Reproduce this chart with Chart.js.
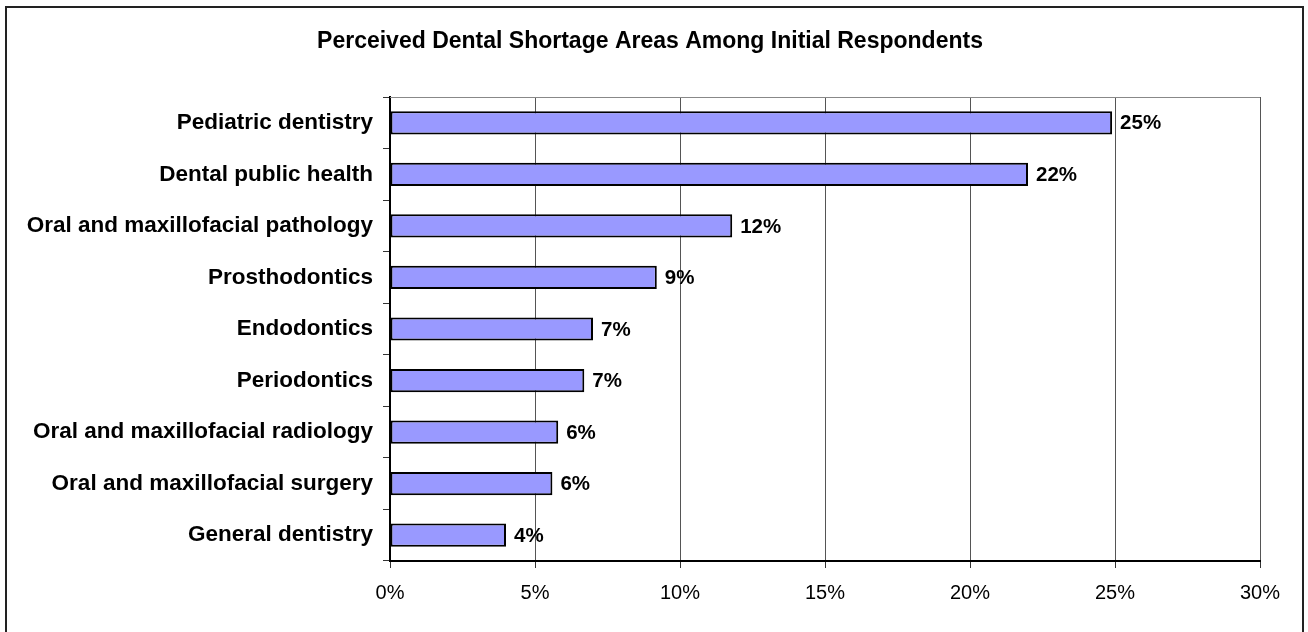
<!DOCTYPE html>
<html>
<head>
<meta charset="utf-8">
<script src="https://cdn.jsdelivr.net/npm/chart.js@4/dist/chart.umd.min.js"></script>
<style>
  html, body { margin: 0; padding: 0; background: #fff; overflow: hidden; }
  #wrap { position: relative; width: 1308px; height: 632px; }
  #frame {
    position: absolute; left: 5px; top: 6px; width: 1299px; height: 700px;
    box-sizing: border-box; border: 2px solid #222; pointer-events: none;
  }
</style>
</head>
<body>
<div id="wrap">
  <canvas id="myCharts" width="1308" height="632"></canvas>
  <div id="frame"></div>
</div>
<script>
// data
const chartTitle = 'Perceived Dental Shortage Areas Among Initial Respondents';
const categories = [
  'Pediatric dentistry',
  'Dental public health',
  'Oral and maxillofacial pathology',
  'Prosthodontics',
  'Endodontics',
  'Periodontics',
  'Oral and maxillofacial radiology',
  'Oral and maxillofacial surgery',
  'General dentistry'
];
const shares = [24.9, 22.0, 11.8, 9.2, 7.0, 6.7, 5.8, 5.6, 4.0];
const xTicks = [0, 5, 10, 15, 20, 25, 30];

const FONT = "'Liberation Sans', Arial, sans-serif";

// title centred on the whole frame, not on the plot
const frameTitle = {
  id: 'frameTitle',
  afterDraw(chart) {
    const c = chart.ctx;
    c.save();
    c.font = 'bold 23px ' + FONT;
    c.fillStyle = '#000';
    c.textAlign = 'center';
    c.textBaseline = 'middle';
    c.fillText(chartTitle, chart.width / 2 - 4, 42);
    c.restore();
  }
};

// value labels at the end of each bar
const barLabels = {
  id: 'barLabels',
  afterDatasetsDraw(chart) {
    const c = chart.ctx;
    const meta = chart.getDatasetMeta(0);
    c.save();
    c.font = 'bold 20.5px ' + FONT;
    c.fillStyle = '#000';
    c.textAlign = 'left';
    c.textBaseline = 'middle';
    meta.data.forEach((bar, i) => {
      c.fillText(Math.round(shares[i]) + '%', bar.x + 8, bar.y + 1);
    });
    c.restore();
  }
};

// grey line on top of the plot area
const plotTop = {
  id: 'plotTop',
  beforeDatasetsDraw(chart) {
    const a = chart.chartArea;
    const c = chart.ctx;
    c.save();
    c.strokeStyle = '#888';
    c.lineWidth = 1;
    c.beginPath();
    c.moveTo(a.left, a.top + 0.5);
    c.lineTo(a.right, a.top + 0.5);
    c.stroke();
    c.restore();
  }
};

const ctx = document.getElementById('myCharts');
const myCharts = new Chart(ctx, {
    type: 'bar',
    data: {
        labels: categories,
        datasets: [{
            label: 'Share',
            data: shares,
            backgroundColor: '#9999FF',
            borderColor: '#000',
            borderWidth: 2,
            borderSkipped: false,
            categoryPercentage: 1,
            barPercentage: 0.45
        }]
    },
    options: {
        indexAxis: 'y',
        responsive: false,
        animation: false,
        devicePixelRatio: 1,
        layout: { padding: { left: 0, right: 48, top: 97, bottom: 29 } },
        plugins: {
            legend: { display: false },
            tooltip: { enabled: false },
            title: { display: false }
        },
        scales: {
            x: {
                min: 0,
                max: 30,
                afterBuildTicks(scale) {
                    scale.ticks = xTicks.map(v => ({ value: v }));
                },
                afterFit(scale) { scale.height = 42; },
                ticks: {
                    color: '#000',
                    padding: 13,
                    maxRotation: 0,
                    font: { family: FONT, size: 20 },
                    callback: v => v + '%'
                },
                grid: { color: '#555', lineWidth: 1, tickLength: 7, tickColor: '#333' },
                border: { color: '#000', width: 2 }
            },
            y: {
                afterFit(scale) { scale.width = 390; },
                ticks: {
                    color: '#000',
                    padding: 10,
                    font: { family: FONT, size: 22.5, weight: 'bold' }
                },
                grid: { drawOnChartArea: false, tickLength: 7, color: '#333' },
                border: { color: '#000', width: 2 }
            }
        }
    },
    plugins: [plotTop, barLabels, frameTitle]
});
</script>
</body>
</html>
